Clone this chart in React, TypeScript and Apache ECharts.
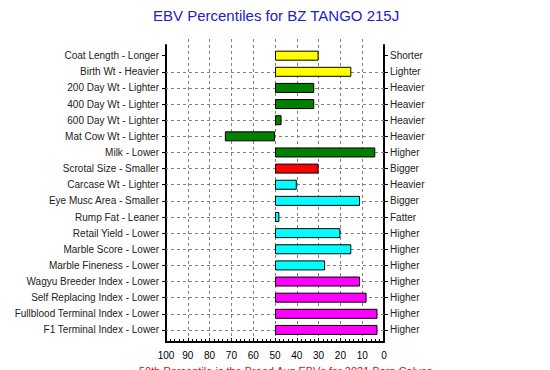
import { useEffect, useRef } from 'react';
import * as echarts from 'echarts';

const titleText = 'EBV Percentiles for BZ TANGO 215J';
const footnote = '50th Percentile is the Breed Avg EBVs for 2021 Born Calves';

const categories = [
  'Coat Length - Longer',
  'Birth Wt - Heavier',
  '200 Day Wt - Lighter',
  '400 Day Wt - Lighter',
  '600 Day Wt - Lighter',
  'Mat Cow Wt - Lighter',
  'Milk - Lower',
  'Scrotal Size - Smaller',
  'Carcase Wt - Lighter',
  'Eye Musc Area - Smaller',
  'Rump Fat - Leaner',
  'Retail Yield - Lower',
  'Marble Score - Lower',
  'Marble Fineness - Lower',
  'Wagyu Breeder Index - Lower',
  'Self Replacing Index - Lower',
  'Fullblood Terminal Index - Lower',
  'F1 Terminal Index - Lower',
];

const rightLabels = [
  'Shorter', 'Lighter', 'Heavier', 'Heavier', 'Heavier', 'Heavier', 'Higher', 'Bigger', 'Heavier',
  'Bigger', 'Fatter', 'Higher', 'Higher', 'Higher', 'Higher', 'Higher', 'Higher', 'Higher',
];

const percentiles = [30, 15, 32, 32, 47, 73, 4, 30, 40, 11, 48, 20, 15, 27, 11, 8, 3, 3];

const barColors = [
  '#ffff00', '#ffff00',
  '#008000', '#008000', '#008000', '#008000', '#008000',
  '#ff0000',
  '#00ffff', '#00ffff', '#00ffff', '#00ffff', '#00ffff', '#00ffff',
  '#ff00ff', '#ff00ff', '#ff00ff', '#ff00ff',
];

const breedAverage = 50;
const xMin = 0;
const xMax = 100;
const xStep = 10;

export default function App() {
  const ref = useRef<HTMLDivElement>(null);

  useEffect(() => {
    if (!ref.current) return;
    const chart = echarts.init(ref.current, null, { renderer: 'svg' });
    const font = '"Liberation Sans", Arial, sans-serif';
    const L = 166;
    const W = 218;
    const gridLine = { color: '#808080', type: [3, 3] as any, width: 1 };

    chart.setOption({
      animation: false,
      backgroundColor: '#ffffff',
      title: {
        text: titleText,
        left: 148,
        top: 3,
        textStyle: { color: '#2020c8', fontSize: 15, fontWeight: 'normal', fontFamily: font },
      },
      grid: [
        { left: L, width: W, top: 39, height: 303 },
        { left: L, width: W, top: 45, height: 297 },
        { left: L, width: W, top: 47.6, height: 290.4 },
      ],
      xAxis: [
        {
          gridIndex: 0,
          type: 'value',
          inverse: true,
          min: xMin,
          max: xMax,
          interval: xStep,
          axisLine: { show: true, onZero: false, lineStyle: { color: '#000', width: 2 } },
          axisTick: { show: true, inside: true, length: 4, lineStyle: { color: '#000' } },
          minorTick: { show: true, splitNumber: 5, length: 3, lineStyle: { color: '#000' } },
          splitLine: { show: true, showMinLine: false, showMaxLine: false, lineStyle: gridLine },
          axisLabel: { color: '#000', fontSize: 10, margin: 8, fontFamily: font },
        },
        { gridIndex: 1, type: 'value', min: xMin, max: xMax, show: false },
        { gridIndex: 2, type: 'value', inverse: true, min: xMin, max: xMax, show: false },
      ],
      yAxis: [
        { gridIndex: 0, type: 'value', min: 0, max: 1, show: false },
        {
          gridIndex: 1,
          type: 'value',
          min: 0,
          max: 1,
          position: 'left',
          axisLine: { show: true, onZero: false, lineStyle: { color: '#000', width: 2 } },
          axisTick: { show: false },
          axisLabel: { show: false },
          splitLine: { show: false },
        },
        {
          gridIndex: 1,
          type: 'value',
          min: 0,
          max: 1,
          position: 'right',
          axisLine: { show: true, onZero: false, lineStyle: { color: '#000', width: 2 } },
          axisTick: { show: false },
          axisLabel: { show: false },
          splitLine: { show: false },
        },
        {
          gridIndex: 2,
          type: 'category',
          data: categories,
          inverse: true,
          position: 'left',
          axisLine: { show: false, onZero: false },
          axisTick: { show: true, alignWithLabel: true, length: 4, lineStyle: { color: '#000' } },
          splitLine: { show: false },
          axisLabel: { color: '#222', fontSize: 10, margin: 7, fontFamily: font, interval: 0 },
        },
        {
          gridIndex: 2,
          type: 'category',
          data: rightLabels,
          inverse: true,
          position: 'right',
          axisLine: { show: false, onZero: false },
          axisTick: { show: true, alignWithLabel: true, length: 4, lineStyle: { color: '#000' } },
          splitLine: { show: false },
          axisLabel: { color: '#222', fontSize: 10, margin: 6, fontFamily: font, interval: 0 },
        },
      ],
      series: [
        {
          type: 'bar',
          xAxisIndex: 2,
          yAxisIndex: 3,
          stack: 'pct',
          barWidth: 10,
          silent: true,
          z: 1,
          itemStyle: { color: 'rgba(0,0,0,0)', borderWidth: 0 },
          data: percentiles.map((v) => Math.min(v, breedAverage)),
          markLine: {
            silent: true,
            symbol: 'none',
            z: 1,
            label: { show: false },
            lineStyle: gridLine,
            data: categories.map((_, i) => ({ yAxis: i })).slice(1),
          },
        },
        {
          type: 'bar',
          xAxisIndex: 2,
          yAxisIndex: 3,
          stack: 'pct',
          barWidth: 10,
          z: 3,
          itemStyle: { borderColor: '#000', borderWidth: 1 },
          data: percentiles.map((v, i) => ({
            value: Math.abs(v - breedAverage),
            itemStyle: { color: barColors[i] },
          })),
        },
      ],
      graphic: [
        {
          type: 'text',
          left: 139,
          top: 365,
          style: { text: footnote, fill: '#ff0000', font: `11px ${font}` },
        },
      ],
    });

    return () => chart.dispose();
  }, []);

  return (
    <div
      ref={ref}
      style={{ position: 'fixed', left: 0, top: 0, width: 550, height: 370, background: '#fff' }}
    />
  );
}
